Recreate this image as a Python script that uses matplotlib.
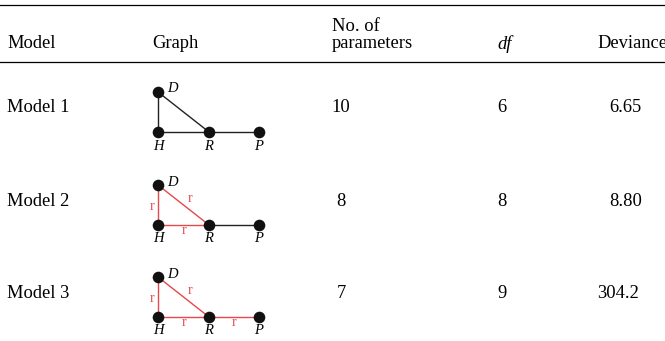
import matplotlib.pyplot as plt

# Table content
headers = ["Model", "Graph", "No. of\nparameters", "df", "Deviance"]
models = ["Model 1", "Model 2", "Model 3"]
n_params = ["10", "8", "7"]
dfs = ["6", "8", "9"]
deviances = ["6.65", "8.80", "304.2"]

# Graph edges per model: (node_a, node_b, restricted)
edges = [
    [("D", "H", False), ("D", "R", False), ("H", "R", False), ("R", "P", False)],
    [("D", "H", True), ("D", "R", True), ("H", "R", True), ("R", "P", False)],
    [("D", "H", True), ("D", "R", True), ("H", "R", True), ("R", "P", True)],
]

# Layout (pixels)
W, H = 665, 341
row_y = [108, 201, 293]
graph_top = [92, 185, 277]
node_pos = {"D": (158, 0), "H": (158, 40), "R": (209, 40), "P": (259, 40)}
red = "#e5484d"
serif = "Liberation Serif"

fig = plt.figure(figsize=(W / 100, H / 100), dpi=100)
ax = fig.add_axes([0, 0, 1, 1])
ax.set_xlim(0, W)
ax.set_ylim(H, 0)
ax.axis("off")

# Rules
ax.plot([0, W], [5, 5], color="black", lw=0.9)
ax.plot([0, W], [62, 62], color="black", lw=0.9)

# Header
fs = 13.3
ax.text(7, 44, headers[0], fontsize=fs, family=serif, va="center")
ax.text(152, 44, headers[1], fontsize=fs, family=serif, va="center")
ax.text(332, 35, headers[2], fontsize=fs, family=serif, va="center", linespacing=1.0)
ax.text(497, 44, headers[3], fontsize=fs, family=serif, style="italic", va="center")
ax.text(597, 44, headers[4], fontsize=fs, family=serif, va="center")

dev_x = [609, 609, 597]
for i, y in enumerate(row_y):
    ax.text(7, y, models[i], fontsize=fs, family=serif, va="center")
    ax.text(341, y, n_params[i], fontsize=fs, family=serif, va="center", ha="center")
    ax.text(502, y, dfs[i], fontsize=fs, family=serif, va="center", ha="center")
    ax.text(dev_x[i], y, deviances[i], fontsize=fs, family=serif, va="center")

    top = graph_top[i]
    pos = {k: (x, top + dy) for k, (x, dy) in node_pos.items()}
    for a, b, restricted in edges[i]:
        (x0, y0), (x1, y1) = pos[a], pos[b]
        col = red if restricted else "#222222"
        ax.plot([x0, x1], [y0, y1], color=col, lw=1.0, zorder=1)
        if restricted:
            mx, my = (x0 + x1) / 2, (y0 + y1) / 2
            if x0 == x1:
                lx, ly = mx - 6, my + 2
            elif y0 == y1:
                lx, ly = mx, my + 6
            else:
                lx, ly = mx + 6, my - 6
            ax.text(lx, ly, "r", color=red, fontsize=10, family=serif,
                    ha="center", va="center")
    xs = [p[0] for p in pos.values()]
    ys = [p[1] for p in pos.values()]
    ax.scatter(xs, ys, s=70, color="#111111", zorder=3, linewidths=0)
    for k, (x, y) in pos.items():
        if k == "D":
            ax.text(x + 9, y - 3, k, fontsize=10.5, family=serif, style="italic",
                    va="center")
        else:
            ax.text(x, y + 14, k, fontsize=10.5, family=serif, style="italic",
                    ha="center", va="center")

fig.savefig("out.png", dpi=100)
